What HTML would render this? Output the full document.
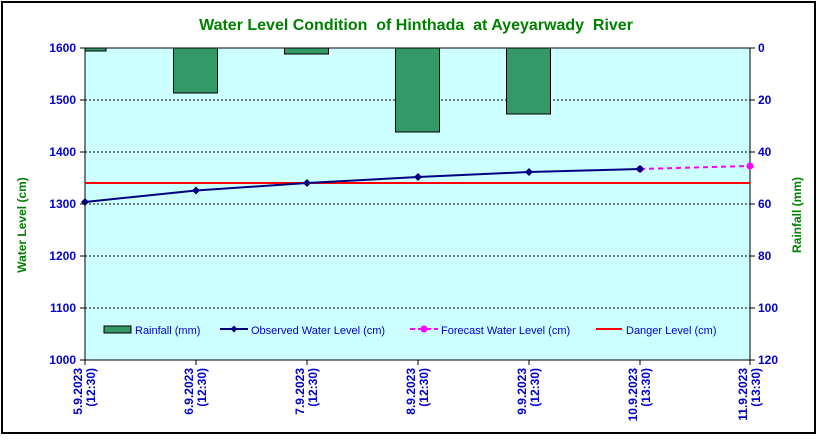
<!DOCTYPE html>
<html><head><style>body{margin:0;background:#fff}</style></head><body>
<svg width="818" height="436" xmlns="http://www.w3.org/2000/svg" font-family="Liberation Sans, Arial, sans-serif">
<rect x="0" y="0" width="818" height="436" fill="#fff"/>
<rect x="2" y="2" width="813" height="431" fill="none" stroke="#000" stroke-width="2"/>
<text x="416" y="30" text-anchor="middle" font-size="16" font-weight="bold" fill="#008000">Water Level Condition&#160; of Hinthada&#160; at Ayeyarwady&#160; River</text>
<rect x="85" y="48" width="665" height="312" fill="#CCFFFF"/>
<g stroke="#000" stroke-width="1" stroke-dasharray="2,2">
<line x1="85" x2="750" y1="100" y2="100"/><line x1="85" x2="750" y1="152" y2="152"/>
<line x1="85" x2="750" y1="204" y2="204"/><line x1="85" x2="750" y1="256" y2="256"/>
<line x1="85" x2="750" y1="308" y2="308"/>
</g>
<g fill="#339966" stroke="#000" stroke-width="1">
<rect x="85" y="48" width="21" height="3"/>
<rect x="173.5" y="48" width="44" height="45"/>
<rect x="284.5" y="48" width="44" height="6"/>
<rect x="395.5" y="48" width="44" height="84"/>
<rect x="506.5" y="48" width="44" height="66"/>
</g>
<rect x="85" y="48" width="665" height="312" fill="none" stroke="#000" stroke-width="1"/>
<line x1="85" x2="750" y1="183" y2="183" stroke="#FF0000" stroke-width="2"/>
<polyline points="640,169 750,166" fill="none" stroke="#FF00FF" stroke-width="2" stroke-dasharray="5,4"/>
<circle cx="640" cy="169" r="3.5" fill="#FF00FF"/><circle cx="750" cy="166" r="3.5" fill="#FF00FF"/>
<polyline points="85,202 196,190.5 307,183 418,177 529,172 640,169" fill="none" stroke="#000080" stroke-width="2"/>
<g fill="#000080">
<path d="M85,198 l4,4 -4,4 -4,-4z"/><path d="M196,186.5 l4,4 -4,4 -4,-4z"/><path d="M307,179 l4,4 -4,4 -4,-4z"/>
<path d="M418,173 l4,4 -4,4 -4,-4z"/><path d="M529,168 l4,4 -4,4 -4,-4z"/><path d="M640,165 l4,4 -4,4 -4,-4z"/>
</g>
<g font-size="12" font-weight="bold" fill="#0000CC" text-anchor="end">
<text x="76" y="52">1600</text><text x="76" y="104">1500</text><text x="76" y="156">1400</text>
<text x="76" y="208">1300</text><text x="76" y="260">1200</text><text x="76" y="312">1100</text><text x="76" y="364">1000</text>
</g>
<g font-size="12" font-weight="bold" fill="#0000CC" text-anchor="start">
<text x="758" y="52">0</text><text x="758" y="104">20</text><text x="758" y="156">40</text>
<text x="758" y="208">60</text><text x="758" y="260">80</text><text x="758" y="312">100</text><text x="758" y="364">120</text>
</g>
<g stroke="#000">
<line x1="80" x2="85" y1="48" y2="48"/><line x1="80" x2="85" y1="100" y2="100"/><line x1="80" x2="85" y1="152" y2="152"/>
<line x1="80" x2="85" y1="204" y2="204"/><line x1="80" x2="85" y1="256" y2="256"/><line x1="80" x2="85" y1="308" y2="308"/><line x1="80" x2="85" y1="360" y2="360"/>
<line x1="750" x2="755" y1="48" y2="48"/><line x1="750" x2="755" y1="100" y2="100"/><line x1="750" x2="755" y1="152" y2="152"/>
<line x1="750" x2="755" y1="204" y2="204"/><line x1="750" x2="755" y1="256" y2="256"/><line x1="750" x2="755" y1="308" y2="308"/><line x1="750" x2="755" y1="360" y2="360"/>
<line x1="196" x2="196" y1="360" y2="365"/><line x1="307" x2="307" y1="360" y2="365"/><line x1="418" x2="418" y1="360" y2="365"/>
<line x1="529" x2="529" y1="360" y2="365"/><line x1="640" x2="640" y1="360" y2="365"/><line x1="85" x2="85" y1="360" y2="365"/><line x1="750" x2="750" y1="360" y2="365"/>
</g>
<text transform="translate(26,225) rotate(-90)" text-anchor="middle" font-size="12" font-weight="bold" fill="#008000">Water Level (cm)</text>
<text transform="translate(801,215) rotate(-90)" text-anchor="middle" font-size="12" font-weight="bold" fill="#008000">Rainfall (mm)</text>
<g font-size="12" font-weight="bold" fill="#0000CC" text-anchor="end">
<text transform="translate(82,368) rotate(-90)">5.9.2023</text><text transform="translate(95,368) rotate(-90)">(12:30)</text>
<text transform="translate(193,368) rotate(-90)">6.9.2023</text><text transform="translate(206,368) rotate(-90)">(12:30)</text>
<text transform="translate(304,368) rotate(-90)">7.9.2023</text><text transform="translate(317,368) rotate(-90)">(12:30)</text>
<text transform="translate(415,368) rotate(-90)">8.9.2023</text><text transform="translate(428,368) rotate(-90)">(12:30)</text>
<text transform="translate(526,368) rotate(-90)">9.9.2023</text><text transform="translate(539,368) rotate(-90)">(12:30)</text>
<text transform="translate(637,368) rotate(-90)">10.9.2023</text><text transform="translate(650,368) rotate(-90)">(13:30)</text>
<text transform="translate(747,368) rotate(-90)">11.9.2023</text><text transform="translate(760,368) rotate(-90)">(13:30)</text>
</g>
<g font-size="11" fill="#0000CC">
<rect x="104" y="326" width="27" height="7" fill="#339966" stroke="#000"/>
<text x="135" y="334">Rainfall (mm)</text>
<line x1="220" x2="248" y1="329" y2="329" stroke="#000080" stroke-width="2"/>
<path d="M234,325.5 l3.5,3.5 -3.5,3.5 -3.5,-3.5z" fill="#000080"/>
<text x="251" y="334">Observed Water Level (cm)</text>
<line x1="410" x2="438" y1="329" y2="329" stroke="#FF00FF" stroke-width="2" stroke-dasharray="5,3"/>
<circle cx="424" cy="329" r="3.5" fill="#FF00FF"/>
<text x="441" y="334">Forecast Water Level (cm)</text>
<line x1="596" x2="622" y1="329" y2="329" stroke="#FF0000" stroke-width="2"/>
<text x="626" y="334">Danger Level (cm)</text>
</g>
</svg>
</body></html>
